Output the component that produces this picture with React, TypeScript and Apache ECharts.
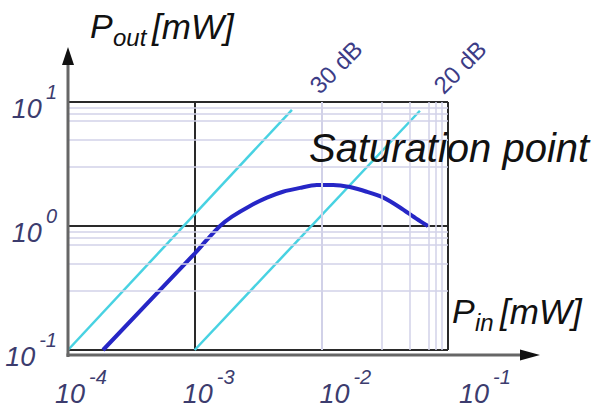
import { useEffect, useRef } from "react";
import * as echarts from "echarts";

// ---- data ----
const pinTicks = [1e-4, 1e-3, 1e-2, 1e-1];
const poutTicks = [1e-1, 1, 10];
const minorMultipliers = [3, 5, 7, 8, 9];

const gain30Pin = [1e-4, 5.86e-3];
const gain30Pout = [0.1, 8.65];
const gain20Pin = [1e-3, 6.0e-2];
const gain20Pout = [0.1, 8.5];

const ampPin = [1.89e-4, 1.0e-3, 1.251e-3, 1.585e-3, 1.971e-3, 2.735e-3, 3.72e-3, 4.98e-3, 6.79e-3, 9.18e-3, 1.24e-2, 1.68e-2, 2.28e-2, 3.07e-2, 4.18e-2, 5.66e-2, 6.95e-2];
const ampPout = [0.1, 0.6, 0.775, 1.0, 1.189, 1.452, 1.694, 1.89, 2.03, 2.14, 2.14, 2.06, 1.89, 1.7, 1.41, 1.14, 1.0];

const gainLabels = ["30 dB", "20 dB"];
const titleY = ["P", "out", "[mW]"];
const titleX = ["P", "in", "[mW]"];
const annotation = "Saturation point";

const FONT = "'Liberation Sans', Arial, sans-serif";
const TICK_COLOR = "#3c3c6e";

export default function App() {
  const ref = useRef<HTMLDivElement>(null);
  useEffect(() => {
    if (!ref.current) return;
    const chart = echarts.init(ref.current, undefined, { renderer: "svg" });

    const minorX: number[] = [];
    pinTicks.slice(0, -1).forEach((d) => minorMultipliers.forEach((m) => minorX.push(m * d)));
    const minorY: number[] = [];
    poutTicks.slice(0, -1).forEach((d) => minorMultipliers.forEach((m) => minorY.push(m * d)));

    const tickRich = () => ({
      b: { fontSize: 27, lineHeight: 40, verticalAlign: "bottom", fontStyle: "italic", fontFamily: FONT, color: TICK_COLOR },
      s: { fontSize: 20, lineHeight: 16, verticalAlign: "top", fontStyle: "italic", fontFamily: FONT, color: TICK_COLOR, padding: [0, 0, 0, 4] },
    });

    const xShift = [26, 28, 48, 74];
    const xRich: any = tickRich();
    xShift.forEach((w, i) => {
      xRich["p" + i] = { width: w, fontSize: 10, lineHeight: 40 };
    });
    const yRich: any = tickRich();

    const txt = (text: string, x: number, y: number, size: number, extra: any = {}) => ({
      type: "text",
      x,
      y,
      z: 20,
      style: {
        text,
        fontSize: size,
        fontFamily: FONT,
        fontStyle: "italic",
        fill: "#111",
        align: "left",
        verticalAlign: "middle",
        ...extra,
      },
    });

    chart.setOption({
      animation: false,
      backgroundColor: "#fff",
      grid: { left: 68, top: 102, width: 380, height: 253, containLabel: false },
      xAxis: {
        type: "log",
        logBase: 10,
        min: 1e-4,
        max: 1e-1,
        z: 2,
        axisLine: { show: false },
        axisTick: { show: false },
        splitLine: { show: true, lineStyle: { color: "#2a2a2a", width: 2 } },
        axisLabel: {
          margin: 17,
          rich: xRich,
          formatter: (v: number) => {
            const e = Math.round(Math.log10(v));
            const i = e + 4;
            return `{p${i}| }{b|10}{s|${e}}`;
          },
        },
      },
      yAxis: {
        type: "log",
        logBase: 10,
        min: 1e-1,
        max: 10,
        z: 2,
        axisLine: { show: false },
        axisTick: { show: false },
        splitLine: { show: true, lineStyle: { color: "#2a2a2a", width: 2 } },
        axisLabel: {
          margin: 11,
          rich: yRich,
          formatter: (v: number) => {
            const e = Math.round(Math.log10(v));
            return `{b|10}{s|${e}}`;
          },
        },
      },
      series: [
        {
          type: "line",
          data: [],
          z: 1,
          silent: true,
          markLine: {
            silent: true,
            symbol: ["none", "none"],
            label: { show: false },
            lineStyle: { color: "#d2d2e8", width: 1.5, type: "solid" },
            emphasis: { disabled: true },
            data: [...minorX.map((v) => ({ xAxis: v })), ...minorY.map((v) => ({ yAxis: v }))],
          },
        },
        {
          name: gainLabels[0],
          type: "line",
          z: 3,
          showSymbol: false,
          data: gain30Pin.map((x, i) => [x, gain30Pout[i]]),
          lineStyle: { color: "#48d2e2", width: 2.5 },
        },
        {
          name: gainLabels[1],
          type: "line",
          z: 3,
          showSymbol: false,
          data: gain20Pin.map((x, i) => [x, gain20Pout[i]]),
          lineStyle: { color: "#48d2e2", width: 2.5 },
        },
        {
          name: "Pout",
          type: "line",
          z: 4,
          showSymbol: false,
          smooth: 0.25,
          data: ampPin.map((x, i) => [x, ampPout[i]]),
          lineStyle: { color: "#2626c6", width: 4 },
        },
      ],
      graphic: [
        { type: "line", z: 15, shape: { x1: 68, y1: 357, x2: 68, y2: 60 }, style: { stroke: "#666", lineWidth: 3 } },
        { type: "polygon", z: 15, shape: { points: [[62, 65], [68, 47], [74, 65]] }, style: { fill: "#111" } },
        { type: "line", z: 15, shape: { x1: 66.5, y1: 355, x2: 525, y2: 355 }, style: { stroke: "#666", lineWidth: 3 } },
        { type: "polygon", z: 15, shape: { points: [[520, 349.5], [540, 355], [520, 360.5]] }, style: { fill: "#111" } },
        txt(titleY[0], 90, 26, 34),
        txt(titleY[1], 113, 37, 24),
        txt(titleY[2], 152, 26, 35),
        txt(titleX[0], 452, 311, 34),
        txt(titleX[1], 475, 322.5, 24),
        txt(titleX[2], 500, 311, 35),
        txt(annotation, 309, 148, 40),
        {
          type: "text",
          x: 336,
          y: 67,
          rotation: Math.PI / 4,
          z: 20,
          style: { text: gainLabels[0], fontSize: 24, fontFamily: FONT, fill: "#3c3c86", align: "center", verticalAlign: "middle" },
        },
        {
          type: "text",
          x: 460,
          y: 67,
          rotation: Math.PI / 4,
          z: 20,
          style: { text: gainLabels[1], fontSize: 24, fontFamily: FONT, fill: "#3c3c86", align: "center", verticalAlign: "middle" },
        },
      ],
    });
    return () => chart.dispose();
  }, []);
  return <div ref={ref} style={{ position: "absolute", left: 0, top: 0, width: 598, height: 407 }} />;
}
